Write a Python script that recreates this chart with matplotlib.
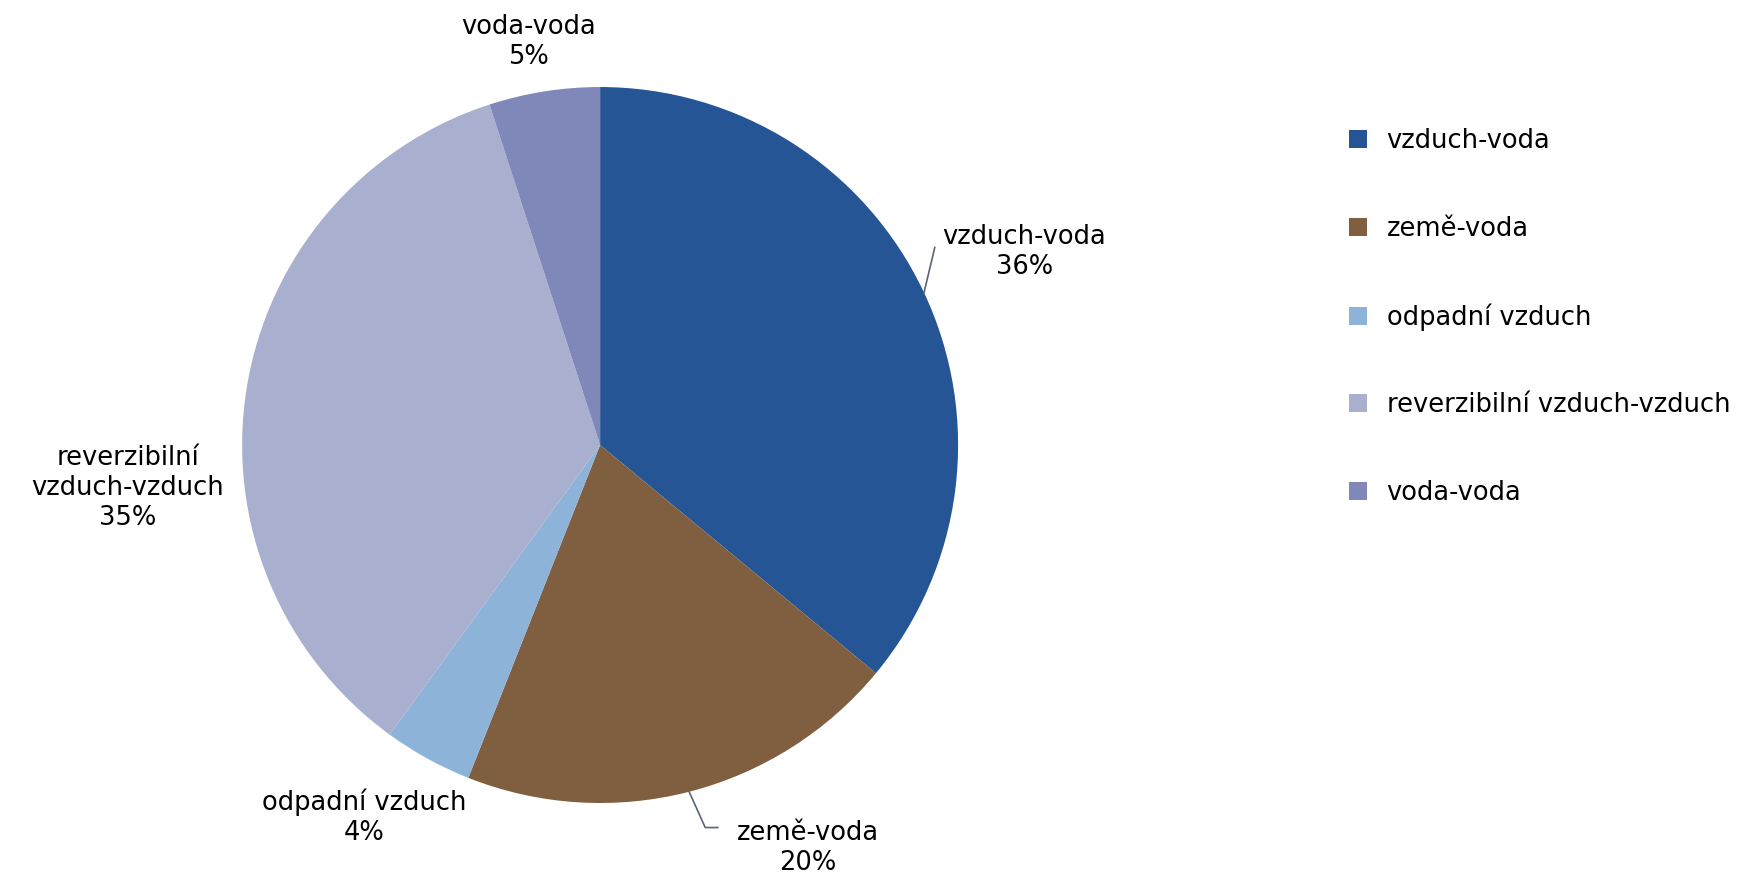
import numpy as np
import matplotlib
matplotlib.use("Agg")
import matplotlib.pyplot as plt
from matplotlib.patches import Patch

# data
categories = ["vzduch-voda", "země-voda", "odpadní vzduch",
              "reverzibilní vzduch-vzduch", "voda-voda"]
label_texts = ["vzduch-voda", "země-voda", "odpadní vzduch",
               "reverzibilní\nvzduch-vzduch", "voda-voda"]
shares = [36, 20, 4, 35, 5]
colors = ["#265595", "#7f5f3f", "#8db3d8", "#a8afcf", "#7f88b8"]

# label positions (data units, pie radius = 1)
label_pos = [(1.185, 0.54), (0.58, -1.125), (-0.66, -1.04),
             (-1.32, -0.12), (-0.20, 1.125)]
leader = [True, True, False, False, False]

plt.rcParams["font.family"] = ["DejaVu Sans"]
fig = plt.figure(figsize=(17.44, 8.8), dpi=100)
ax = fig.add_axes([0.1388, 0.0875, 0.4106, 0.8136])

wedges, _ = ax.pie(shares, colors=colors, startangle=90, counterclock=False,
                   wedgeprops=dict(linewidth=0))
ax.set_xlim(-1, 1)
ax.set_ylim(-1, 1)
ax.set_aspect("equal")

for w, txt, val, pos, lead in zip(wedges, label_texts, shares, label_pos, leader):
    ang = np.deg2rad((w.theta1 + w.theta2) / 2)
    ex, ey = np.cos(ang), np.sin(ang)
    s = "{}\n{}%".format(txt, val)
    ax.text(pos[0], pos[1], s, ha="center", va="center", fontsize=18.5,
            linespacing=1.2, multialignment="center")
    if lead:
        if ey > 0:
            ax.plot([ex, ex + 0.03], [ey, ey + 0.126], color="#5a6478", lw=1.2,
                    clip_on=False)
        else:
            ax.plot([ex, ex + 0.045, ex + 0.08], [ey, ey - 0.10, ey - 0.10],
                    color="#5a6478", lw=1.2, clip_on=False)

handles = [Patch(facecolor=c, edgecolor="none") for c in colors]
fig.legend(handles, categories, loc="upper left", bbox_to_anchor=(0.7605, 0.881),
           frameon=False, fontsize=18.5, handlelength=0.7, handleheight=0.7,
           handletextpad=0.75, labelspacing=2.4)

fig.savefig("out.png", dpi=100)
